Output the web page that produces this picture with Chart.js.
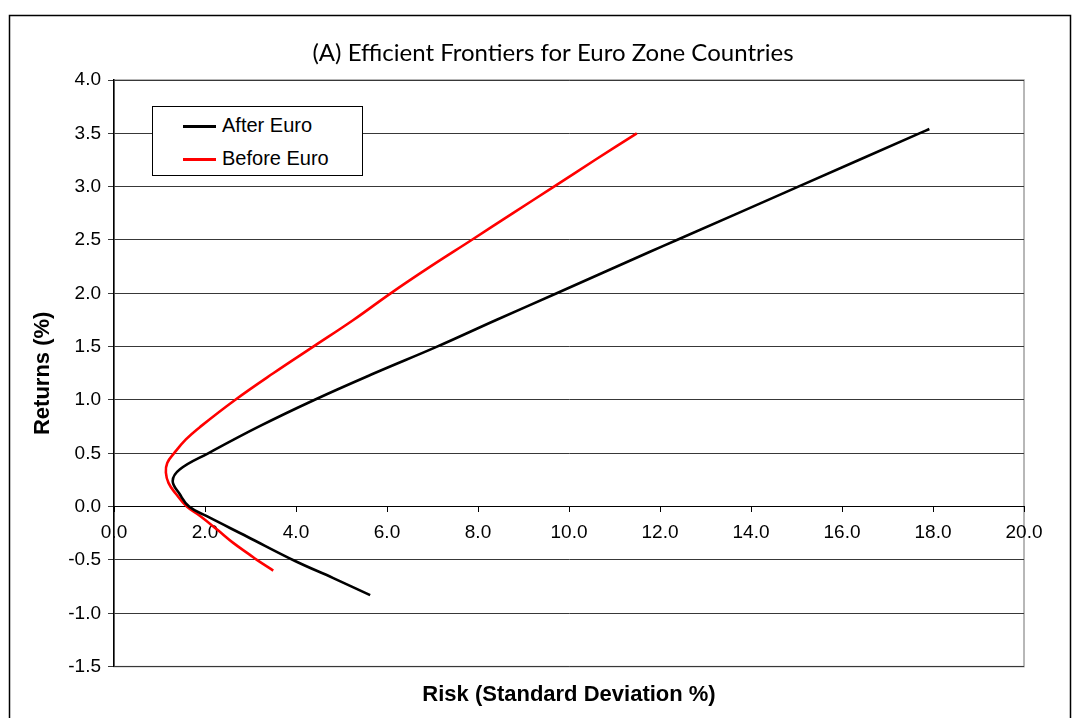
<!DOCTYPE html>
<html>
<head>
<meta charset="utf-8">
<script src="https://cdn.jsdelivr.net/npm/chart.js@4.4.1/dist/chart.umd.min.js"></script>
<style>
  html, body { margin: 0; padding: 0; background: #fff; }
  #wrap { position: relative; width: 1076px; height: 718px; overflow: hidden; }
  #legend {
    position: absolute; left: 152px; top: 106px; width: 209px; height: 68px;
    border: 1px solid #000; background: #fff;
    font-family: "Liberation Sans", Arial, sans-serif; font-size: 20px; color: #000;
  }
  #legend .item { position: absolute; left: 30px; height: 24px; line-height: 24px; }
  #legend .swatch { display: inline-block; width: 33px; height: 3px; vertical-align: middle; margin-right: 6px; }
</style>
</head>
<body>
<div id="wrap">
  <canvas id="grafico" width="1076" height="718"></canvas>
  <div id="legend"></div>
</div>
<script>
// titulos
var titulo = "(A) Efficient Frontiers for Euro Zone Countries";
var tituloX = "Risk (Standard Deviation %)";
var tituloY = "Returns (%)";

// series (riesgo %, retorno %)
var nombres = ["After Euro", "Before Euro"];
var colores = ["#000000", "#ff0000"];

var despuesRiesgo  = [5.63, 4.82, 3.98, 2.92, 2.04, 1.65, 1.44, 1.29, 1.45, 2.07, 3.18, 4.40, 5.72, 7.10, 8.40, 9.73, 11.78, 12.37, 15.04, 17.70, 17.92];
var despuesRetorno = [-0.83, -0.67, -0.51, -0.28, -0.09, 0.00, 0.12, 0.24, 0.35, 0.50, 0.75, 1.00, 1.25, 1.50, 1.75, 2.00, 2.39, 2.50, 3.00, 3.50, 3.54];

var antesRiesgo  = [3.50, 3.14, 2.98, 2.62, 2.28, 1.90, 1.60, 1.36, 1.20, 1.14, 1.17, 1.32, 1.58, 1.90, 2.66, 3.50, 4.38, 5.26, 6.08, 6.95, 7.86, 8.76, 9.67, 10.57, 11.49];
var antesRetorno = [-0.60, -0.50, -0.45, -0.34, -0.22, -0.09, 0.00, 0.12, 0.22, 0.32, 0.41, 0.50, 0.63, 0.75, 1.00, 1.25, 1.50, 1.75, 2.00, 2.25, 2.50, 2.75, 3.00, 3.25, 3.50];

// ejes
var xMin = 0, xMax = 20, xPaso = 2;
var yMin = -1.5, yMax = 4.0, yPaso = 0.5;

function puntos(xs, ys) {
  return xs.map(function (x, i) { return { x: x, y: ys[i] }; });
}

// marco exterior, borde del area y titulo superior
var marco = {
  id: 'marco',
  beforeDraw: function (chart) {
    var ctx = chart.ctx, a = chart.chartArea;
    ctx.save();
    ctx.fillStyle = '#fff';
    ctx.fillRect(0, 0, chart.width, chart.height);
    ctx.strokeStyle = '#000';
    ctx.lineWidth = 1.5;
    ctx.strokeRect(9.5, 15.5, 1061, 800);
    ctx.strokeStyle = '#a0a0a0';
    ctx.lineWidth = 1.5;
    ctx.strokeRect(a.left, a.top, a.right - a.left, a.bottom - a.top);
    ctx.fillStyle = '#000';
    ctx.font = '24px Lato, "Open Sans", sans-serif';
    ctx.textAlign = 'center';
    ctx.textBaseline = 'middle';
    ctx.fillText(titulo, 553, 53);
    ctx.restore();
  }
};

var fuenteEje = { family: '"Liberation Sans", Arial, sans-serif', size: 19 };
var fuenteTitulo = { family: '"Liberation Sans", Arial, sans-serif', size: 22, weight: 'bold' };

var config = {
  type: 'scatter',
  data: {
    datasets: [
      { label: nombres[0], data: puntos(despuesRiesgo, despuesRetorno), borderColor: colores[0], backgroundColor: colores[0], tension: 0.4 },
      { label: nombres[1], data: puntos(antesRiesgo, antesRetorno), borderColor: colores[1], backgroundColor: colores[1], tension: 0.4 }
    ]
  },
  options: {
    responsive: false,
    animation: false,
    showLine: true,
    elements: {
      point: { radius: 0, hoverRadius: 0 },
      line: { borderWidth: 2.6, fill: false }
    },
    layout: { padding: { top: 80, right: 52, bottom: 0, left: 0 } },
    plugins: {
      legend: { display: false },
      tooltip: { enabled: false },
      title: { display: false },
      subtitle: {
        display: true, text: tituloX, position: 'bottom', fullSize: false,
        color: '#000', font: fuenteTitulo, padding: { top: 15, bottom: 10 }
      }
    },
    scales: {
      x: {
        type: 'linear', position: { y: 0 },
        min: xMin, max: xMax,
        afterFit: function (s) { s.height = 0; },
        ticks: {
          stepSize: xPaso, color: '#000', font: fuenteEje, padding: 10, maxRotation: 0,
          callback: function (v) { return v.toFixed(1); }
        },
        grid: { drawOnChartArea: false, drawTicks: true, tickLength: 5, color: '#000' },
        border: { display: true, color: '#000', width: 1 }
      },
      y: {
        type: 'linear', position: 'left',
        min: yMin, max: yMax,
        afterFit: function (s) { s.width = 114; },
        ticks: {
          stepSize: yPaso, color: '#000', font: fuenteEje, padding: 7,
          callback: function (v) { return v.toFixed(1); }
        },
        grid: { color: '#383838', lineWidth: 1, tickLength: 6 },
        border: { display: true, color: '#000', width: 1.5 },
        title: { display: true, text: tituloY, color: '#000', font: fuenteTitulo, padding: { top: 30, bottom: 0 } }
      }
    }
  },
  plugins: [marco]
};

var chart = new Chart(document.getElementById('grafico').getContext('2d'), config);

// leyenda dentro del area del grafico
var leyenda = document.getElementById('legend');
chart.data.datasets.forEach(function (ds, i) {
  var item = document.createElement('div');
  item.className = 'item';
  item.style.top = (6 + i * 33) + 'px';
  item.innerHTML = '<span class="swatch" style="background:' + ds.borderColor + '"></span>' + ds.label;
  leyenda.appendChild(item);
});
</script>
</body>
</html>
